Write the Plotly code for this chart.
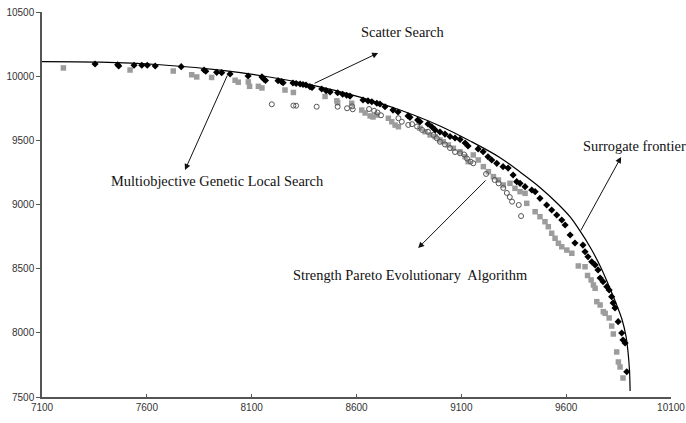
import plotly.graph_objects as go

# Surrogate frontier
frontier_x = [7100, 7377, 7663, 7949, 8140, 8378, 8617, 8808, 8998, 9142, 9285, 9380,
              9475, 9561, 9619, 9666, 9714, 9762, 9800, 9843, 9867, 9886, 9895, 9902, 9905]
frontier_y = [10114, 10110, 10089, 10047, 10005, 9934, 9837, 9736, 9612, 9495, 9365, 9253,
              9133, 9004, 8903, 8794, 8669, 8521, 8381, 8209, 8100, 7968, 7851, 7710, 7547]

# Scatter Search (black diamonds)
ss_x = [7353, 7461, 7466, 7539, 7576, 7602, 7640, 7764, 7873, 7881, 7933, 7957, 7997, 8083,
        8149, 8159, 8166, 8226, 8243, 8250, 8297, 8312, 8331, 8345, 8359, 8378, 8388, 8434,
        8455, 8474, 8510, 8534, 8553, 8569, 8631, 8655, 8673, 8697, 8712, 8736, 8774, 8798,
        8846, 8855, 8892, 8903, 8941, 8959, 8975, 8998, 9022, 9046, 9070, 9094, 9118, 9132,
        9180, 9204, 9227, 9245, 9269, 9299, 9323, 9347, 9364, 9380, 9404, 9436, 9452, 9475,
        9507, 9531, 9555, 9579, 9595, 9619, 9642, 9680, 9690, 9704, 9722, 9738, 9752, 9762,
        9776, 9794, 9805, 9817, 9824, 9833, 9848, 9865, 9871, 9881, 9889]
ss_y = [10095, 10089, 10079, 10085, 10085, 10085, 10079, 10074, 10048, 10038, 10030, 10027,
        10017, 10001, 9994, 9976, 9966, 9965, 9957, 9949, 9947, 9943, 9939, 9935, 9931, 9918,
        9912, 9900, 9887, 9877, 9871, 9859, 9851, 9845, 9814, 9807, 9801, 9789, 9783, 9762,
        9736, 9721, 9690, 9679, 9658, 9645, 9627, 9606, 9581, 9565, 9549, 9530, 9518, 9507,
        9479, 9456, 9433, 9411, 9372, 9347, 9321, 9295, 9284, 9230, 9178, 9165, 9139, 9113,
        9100, 9048, 8996, 8957, 8918, 8879, 8840, 8762, 8700, 8684, 8632, 8593, 8554, 8529,
        8490, 8427, 8399, 8360, 8334, 8282, 8233, 8194, 8087, 7999, 7944, 7921, 7697]

# Strength Pareto Evolutionary Algorithm (gray squares)
spea_x = [7202, 7520, 7726, 7814, 7838, 7909, 8021, 8036, 8084, 8090, 8132, 8149, 8259, 8299,
          8450, 8506, 8510, 8577, 8625, 8641, 8665, 8679, 8697, 8752, 8768, 8784, 8800, 8903,
          8927, 8951, 8975, 8998, 9014, 9038, 9062, 9094, 9118, 9133, 9157, 9181, 9205, 9229,
          9253, 9277, 9300, 9332, 9356, 9380, 9404, 9412, 9452, 9475, 9499, 9515, 9531, 9547,
          9563, 9579, 9603, 9627, 9658, 9690, 9702, 9719, 9730, 9738, 9746, 9762, 9777, 9786,
          9805, 9817, 9825, 9841, 9849, 9857, 9871]
spea_y = [10064, 10048, 10040, 10011, 9994, 9990, 9968, 9953, 9955, 9921, 9921, 9908, 9892,
          9873, 9842, 9808, 9793, 9789, 9736, 9713, 9690, 9682, 9697, 9672, 9645, 9619, 9606,
          9594, 9567, 9542, 9528, 9503, 9489, 9464, 9438, 9411, 9372, 9334, 9386, 9347, 9295,
          9256, 9217, 9191, 9152, 9165, 9126, 9100, 9087, 9009, 8944, 8905, 8866, 8827, 8776,
          8737, 8698, 8671, 8645, 8620, 8521, 8515, 8447, 8412, 8373, 8347, 8243, 8217, 8165,
          8152, 8116, 8053, 7991, 7851, 7773, 7734, 7648]

# Multiobjective Genetic Local Search (open circles)
mogls_x = [8196, 8299, 8312, 8410, 8510, 8555, 8579, 8582, 8660, 8684, 8700, 8717, 8800, 8816,
           8847, 8865, 8889, 8913, 8941, 8967, 8983, 8998, 9022, 9046, 9070, 9094, 9113, 9127,
           9144, 9157, 9218, 9259, 9278, 9300, 9317, 9331, 9342, 9374, 9385]
mogls_y = [9781, 9771, 9770, 9762, 9762, 9750, 9765, 9742, 9744, 9730, 9717, 9695, 9672, 9645,
           9620, 9626, 9608, 9581, 9567, 9542, 9516, 9489, 9468, 9440, 9409, 9399, 9390, 9358,
           9334, 9321, 9238, 9191, 9165, 9129, 9090, 9058, 9022, 8996, 8910]

x_ticks = [7100, 7600, 8100, 8600, 9100, 9600, 10100]
y_ticks = [7500, 8000, 8500, 9000, 9500, 10000, 10500]

fig = go.Figure()
fig.add_trace(go.Scatter(x=spea_x, y=spea_y, mode="markers",
                         marker=dict(symbol="square", size=5.5, color="#9c9c9c"),
                         name="SPEA"))
fig.add_trace(go.Scatter(x=mogls_x, y=mogls_y, mode="markers",
                         marker=dict(symbol="circle-open", size=5, color="#555555",
                                     line=dict(width=1, color="#555555")),
                         name="MOGLS"))
fig.add_trace(go.Scatter(x=ss_x, y=ss_y, mode="markers",
                         marker=dict(symbol="diamond", size=5.5, color="#000000"),
                         name="Scatter Search"))
fig.add_trace(go.Scatter(x=frontier_x, y=frontier_y, mode="lines",
                         line=dict(color="#000000", width=1.2, shape="spline", smoothing=1),
                         name="Surrogate frontier"))

serif = dict(family="Liberation Serif, Times New Roman, serif", size=14.4, color="#111111")

labels = [
    ("Scatter Search", 8817, 10344),
    ("Multiobjective Genetic Local Search", 7935, 9183),
    ("Surrogate frontier", 9924, 9456),
    ("Strength Pareto Evolutionary\u00a0 Algorithm", 8855, 8451),
]
for text, lx, ly in labels:
    fig.add_annotation(x=lx, y=ly, xref="x", yref="y", text=text, showarrow=False,
                       font=serif, xanchor="center", yanchor="middle")

arrows = [
    # (head_x, head_y, tail_x, tail_y)
    (8703, 10181, 8393, 9939),
    (7782, 9269, 7987, 10017),
    (8894, 8661, 9223, 9199),
    (9862, 9370, 9666, 8786),
]
for hx, hy, tx, ty in arrows:
    fig.add_annotation(x=hx, y=hy, ax=tx, ay=ty, xref="x", yref="y", axref="x", ayref="y",
                       text="", showarrow=True, arrowhead=2, arrowsize=1.2, arrowwidth=1,
                       arrowcolor="#111111", standoff=0, startstandoff=0)

fig.update_layout(
    width=686, height=423,
    margin=dict(l=42, r=15, t=12, b=26, autoexpand=False),
    paper_bgcolor="white", plot_bgcolor="white",
    showlegend=False,
    font=dict(family="Liberation Sans, Arial, sans-serif", size=10, color="#333333"),
)
fig.update_xaxes(range=[7100, 10100], tickvals=x_ticks, ticktext=[str(v) for v in x_ticks],
                 showgrid=False, zeroline=False, showline=True, linecolor="#555555",
                 linewidth=1.5, ticks="inside", ticklen=3, tickcolor="#555555",
                 automargin=False, tickfont=dict(size=10, color="#333333"))
fig.update_yaxes(range=[7500, 10500], tickvals=y_ticks, ticktext=[str(v) for v in y_ticks],
                 showgrid=False, zeroline=False, showline=True, linecolor="#555555",
                 linewidth=1.5, ticks="outside", ticklen=4, tickcolor="#555555",
                 automargin=False, tickfont=dict(size=10, color="#333333"))

fig.write_html("out.html")
